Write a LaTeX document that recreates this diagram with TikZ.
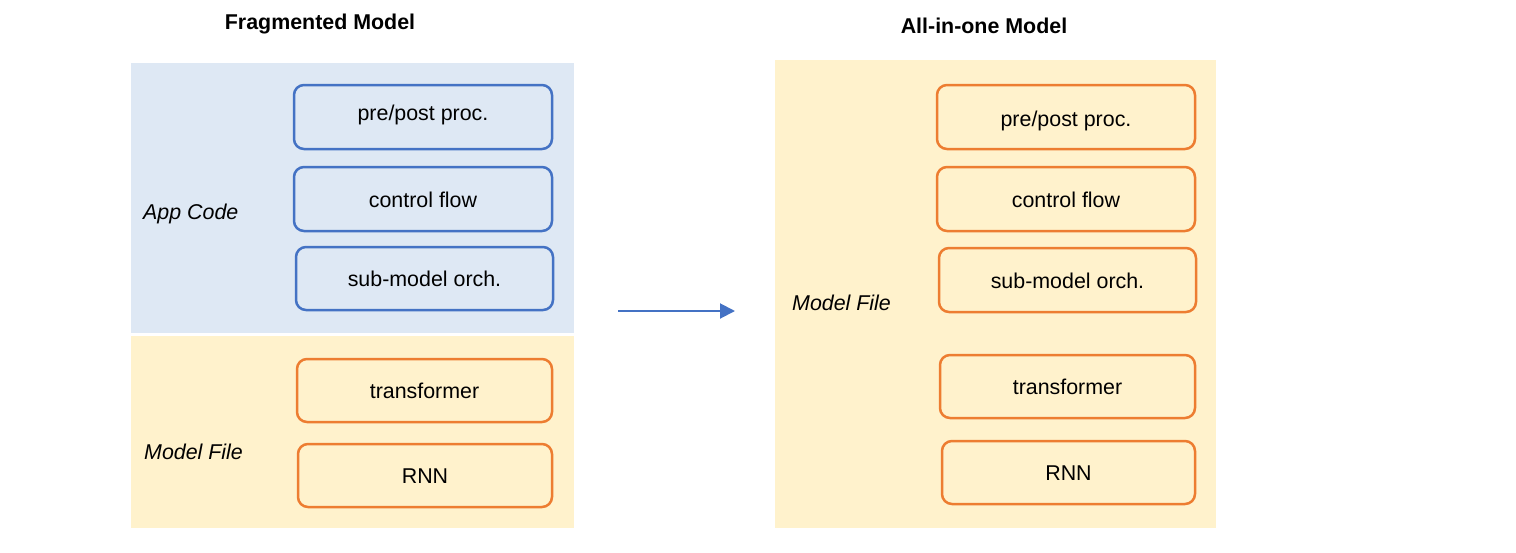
\documentclass[tikz,border=0pt]{standalone}
\usepackage{fontspec}
\setmainfont{Liberation Sans}
\usetikzlibrary{arrows.meta}
\definecolor{bluefill}{HTML}{DEE8F4}
\definecolor{blueline}{HTML}{4472C4}
\definecolor{yelfill}{HTML}{FFF2CC}
\definecolor{orline}{HTML}{ED7D31}
\tikzset{
  panel/.style={fill=#1, draw=none, inner sep=0pt},
  boxbase/.style={line width=2.5pt, rounded corners=10pt, inner sep=0pt, text height=18pt, text depth=2pt, font=\fontsize{21.4}{25}\selectfont},
  bbox/.style={boxbase, draw=blueline, fill=bluefill},
  obox/.style={boxbase, draw=orline, fill=yelfill},
  lbl/.style={anchor=west, inner sep=0pt, font=\fontsize{21.4}{25}\selectfont\itshape},
  ttl/.style={inner sep=0pt, font=\fontsize{21.4}{25}\selectfont\bfseries},
}
\begin{document}
\begin{tikzpicture}[x=1pt,y=-1pt]
\useasboundingbox (0,0) rectangle (1516,552);
% panels
\node[panel=bluefill, minimum width=443, minimum height=270] (appbg) at (352.5,198) {};
\node[panel=yelfill, minimum width=443, minimum height=192] (mfbg) at (352.5,432) {};
\node[panel=yelfill, minimum width=441, minimum height=468] (allbg) at (995.5,294) {};
% titles
\node[ttl] (t1) at (320,24) {Fragmented Model};
\node[ttl] (t2) at (984,26) {All-in-one Model};
% labels
\node[lbl] (l1) at (143,214) {App Code};
\node[lbl] (l2) at (144,452) {Model File};
\node[lbl] (l3) at (792,303) {Model File};
% left boxes
\node[bbox, minimum width=258, minimum height=64] (a1) at (423,117) {\raisebox{5pt}{pre/post proc.}};
\node[bbox, minimum width=258, minimum height=64] (a2) at (423,199) {control flow};
\node[bbox, minimum width=257, minimum height=63] (a3) at (424.5,278.5) {sub-model orch.};
\node[obox, minimum width=255, minimum height=63] (a4) at (424.5,390.5) {transformer};
\node[obox, minimum width=254, minimum height=63] (a5) at (425,475.5) {RNN};
% right boxes
\node[obox, minimum width=258, minimum height=64] (b1) at (1066,117) {\raisebox{-1pt}{pre/post proc.}};
\node[obox, minimum width=258, minimum height=64] (b2) at (1066,199) {control flow};
\node[obox, minimum width=257, minimum height=64] (b3) at (1067.5,280) {sub-model orch.};
\node[obox, minimum width=255, minimum height=63] (b4) at (1067.5,386.5) {transformer};
\node[obox, minimum width=253, minimum height=63] (b5) at (1068.5,472.5) {RNN};
% arrow
\coordinate (as) at (618,311);
\coordinate (ae) at (735,311);
\draw[blueline, line width=2pt, -{Triangle[length=15pt,width=15pt]}] (as) -- (ae);
\end{tikzpicture}
\end{document}
